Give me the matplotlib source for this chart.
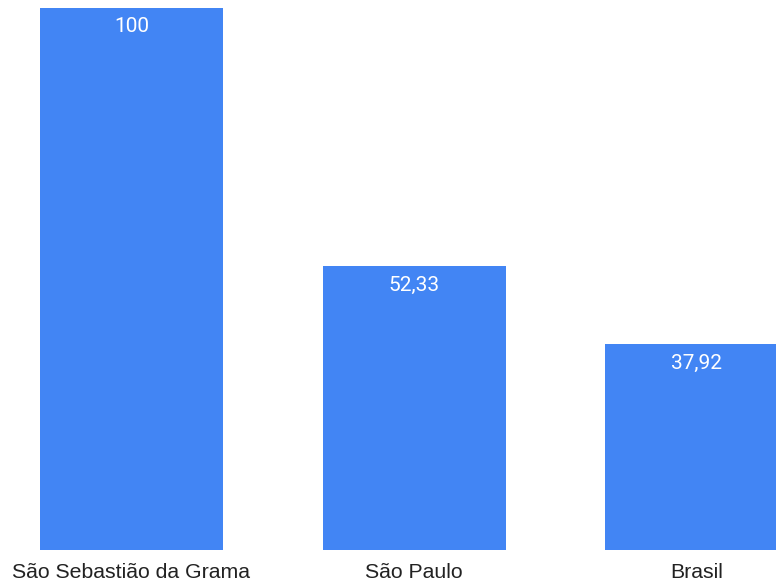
import matplotlib.pyplot as plt

categories = ["São Sebastião da Grama", "São Paulo", "Brasil"]
values = [100, 52.33, 37.92]
value_labels = ["100", "52,33", "37,92"]

W, H = 776, 584
fig = plt.figure(figsize=(W / 100, H / 100), dpi=100)
# axes spans the plot band: bar bottom at 550px, value 100 at 8px
ax = fig.add_axes([0, (H - 550) / H, 1, (550 - 8) / H])

x = list(range(len(categories)))
ax.bar(x, values, width=183 / 282.5, color="#4285F4", zorder=2)
ax.set_xlim(-131.5 / 282.5, (W - 131.5) / 282.5)
ax.set_ylim(0, 100)

for xi, v, lab in zip(x, values, value_labels):
    ax.annotate(lab, (xi, v), xytext=(0, -13.5), textcoords="offset points",
                ha="center", va="center", color="white", fontsize=15,
                family=["Roboto", "DejaVu Sans"])

ax.set_xticks(x)
ax.set_xticklabels(categories, fontsize=15.3, family=["Liberation Sans", "DejaVu Sans"],
                   color="#222222")
ax.tick_params(axis="x", length=0, pad=9)
ax.set_yticks([])
for s in ax.spines.values():
    s.set_visible(False)

fig.savefig("out.png", dpi=100)
